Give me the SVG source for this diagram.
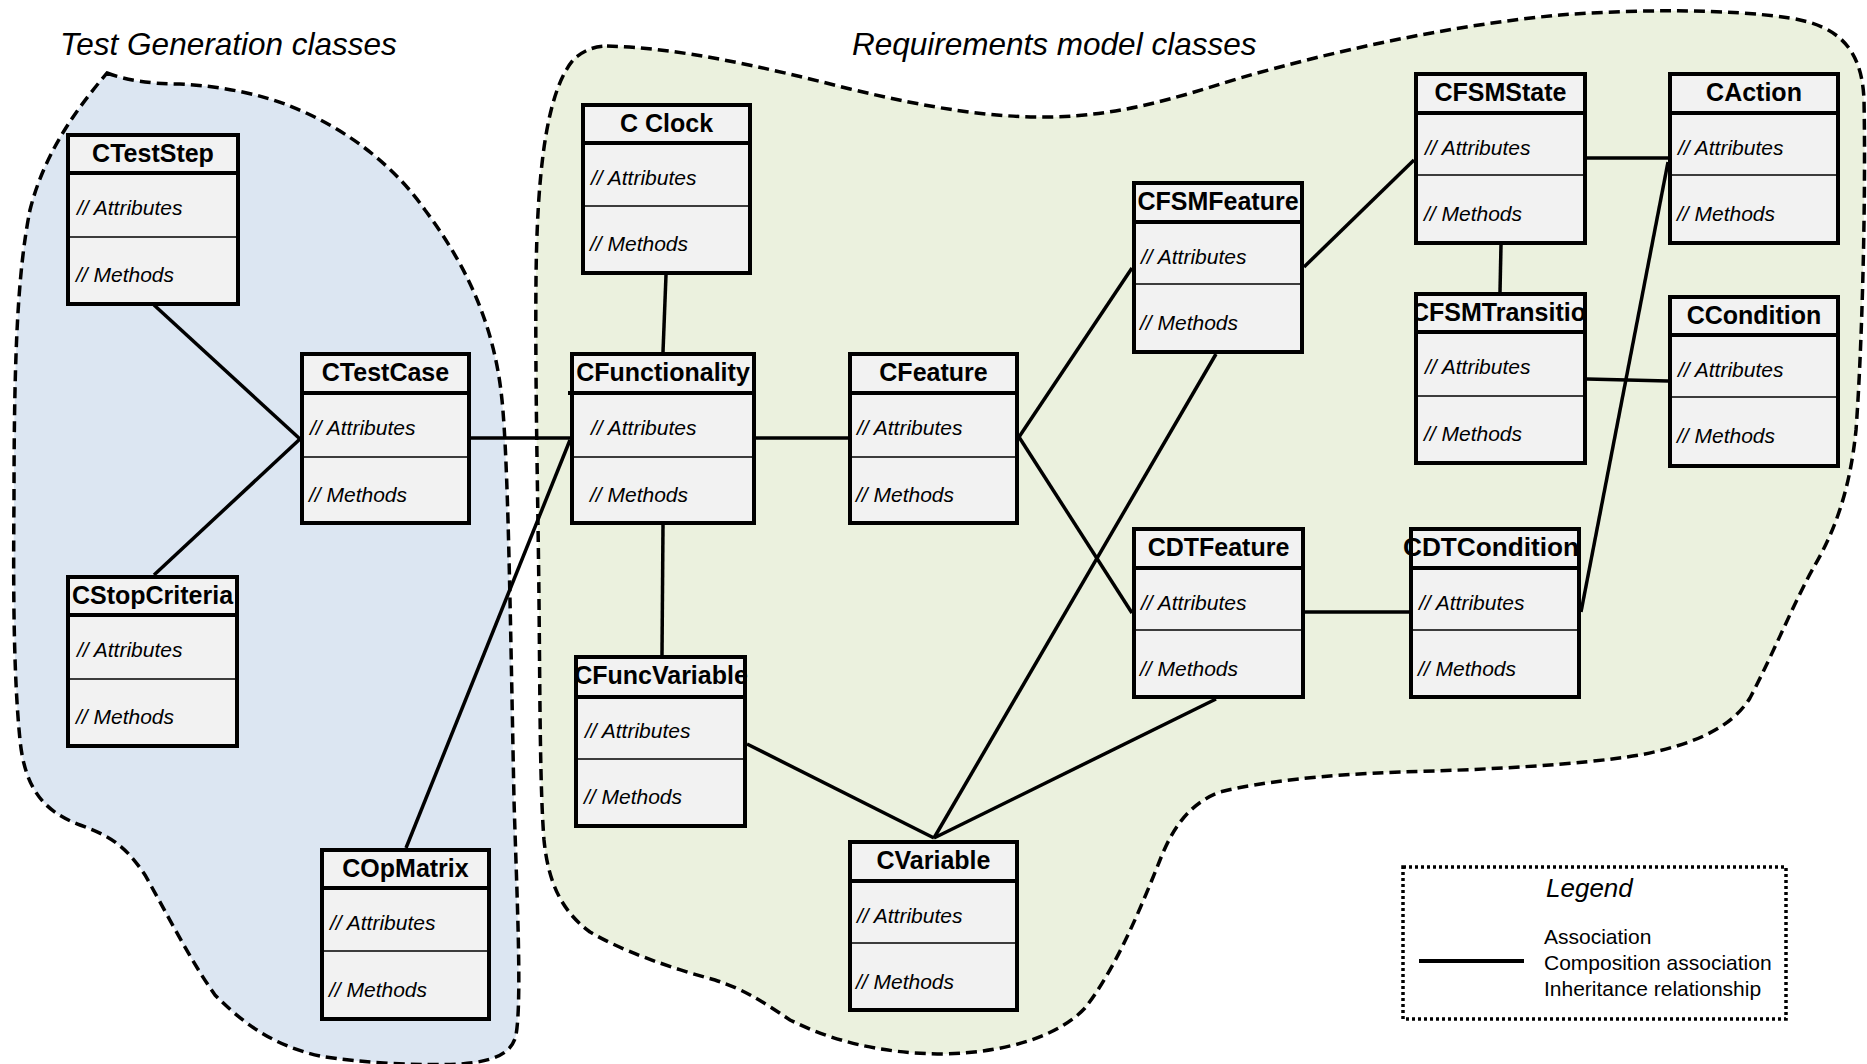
<svg xmlns="http://www.w3.org/2000/svg" width="1867" height="1064" viewBox="0 0 1867 1064">
<style>
.bg{fill:#ffffff}
.blob{stroke:#000;stroke-width:3.5;stroke-dasharray:11 6;fill-rule:nonzero}
.box rect{fill:#f2f2f2;stroke:#000;stroke-width:4}
.hd{stroke:#000;stroke-width:4}
.dv{stroke:#000;stroke-width:1.5}
.nm{font-family:"Liberation Sans",Arial,sans-serif;font-weight:bold;font-size:25px;text-anchor:middle;fill:#000}
.it{font-family:"Liberation Sans",Arial,sans-serif;font-style:italic;font-size:21px;fill:#000}
.ttl{font-family:"Liberation Sans",Arial,sans-serif;font-style:italic;font-size:31.5px;fill:#000}
.lg{font-family:"Liberation Sans",Arial,sans-serif;font-size:21px;fill:#000}
#connectors line{stroke:#000;stroke-width:3.5}
</style>
<defs>
<clipPath id="clipTr"><rect x="1414" y="292" width="173" height="40"/></clipPath>
</defs>
<rect class="bg" x="0" y="0" width="1867" height="1064"/>

<g id="regions">
<path id="region-test" class="blob" fill="#dce6f2" d="M107,73 C125,80 150,84 180,84 C220,86 260,94 290,106 C340,126 390,160 425,210 C470,270 495,330 502,400 C508,460 510,600 514,800 C517,900 522,1000 516,1035 C512,1055 490,1062 460,1064 C420,1066 360,1063 320,1056 C270,1045 240,1020 215,995 C190,960 165,910 145,875 C125,845 110,836 80,825 C45,812 25,790 20,740 C14,680 13,600 14,500 C14,350 18,270 30,210 C45,150 80,105 107,73 Z"/>
<path id="region-req" class="blob" fill="#ebf1de" d="M607,46 C680,48 760,66 850,89 C930,108 990,118 1053,117 C1120,115 1170,100 1240,78 C1330,52 1450,25 1560,15 C1640,9 1730,9 1790,18 C1840,26 1862,50 1864,100 C1866,200 1862,350 1856,430 C1850,490 1835,530 1815,565 C1795,600 1775,650 1750,698 C1730,730 1690,745 1640,755 C1580,765 1480,770 1400,772 C1320,775 1260,782 1220,792 C1185,805 1170,835 1160,860 C1140,910 1115,970 1085,1008 C1060,1035 1010,1052 945,1054 C880,1054 830,1040 790,1020 C760,1000 745,990 715,980 C670,968 620,950 590,932 C560,910 548,880 544,840 C540,790 540,700 539,600 C538,500 535,380 536,280 C537,180 545,90 575,58 C585,50 595,46 607,46 Z"/>
<text class="ttl" x="60" y="55">Test Generation classes</text>
<text class="ttl" x="852" y="55">Requirements model classes</text>
</g>

<g id="connectors">
<line x1="154" y1="305" x2="300" y2="439"/>
<line x1="154" y1="575" x2="300" y2="439"/>
<line x1="471" y1="438" x2="570" y2="438"/>
<line x1="406" y1="848" x2="570" y2="440"/>
<line x1="666" y1="275" x2="663" y2="352"/>
<line x1="756" y1="438" x2="848" y2="438"/>
<line x1="663" y1="525" x2="662" y2="655"/>
<line x1="1019" y1="437" x2="1132" y2="268"/>
<line x1="1019" y1="437" x2="1132" y2="613"/>
<line x1="747" y1="744" x2="934" y2="838"/>
<line x1="934" y1="838" x2="1216" y2="354"/>
<line x1="934" y1="838" x2="1216" y2="699"/>
<line x1="1304" y1="267" x2="1414" y2="160"/>
<line x1="1587" y1="158" x2="1668" y2="158"/>
<line x1="1501" y1="245" x2="1500" y2="292"/>
<line x1="1587" y1="379" x2="1668" y2="381"/>
<line x1="1305" y1="612" x2="1409" y2="612"/>
<line x1="1668" y1="162" x2="1581" y2="612"/>
</g>

<g id="CTestStep" class="box" transform="translate(66,133)">
<rect x="2" y="2" width="170" height="169"/>
<line class="hd" x1="2" y1="40" x2="172" y2="40"/>
<line class="dv" x1="2" y1="104" x2="172" y2="104"/>
<text class="nm" x="87" y="29">CTestStep</text>
<text class="it" x="11" y="82">// Attributes</text>
<text class="it" x="10" y="149">// Methods</text>
</g>

<g id="CTestCase" class="box" transform="translate(300,352)">
<rect x="2" y="2" width="167" height="169"/>
<line class="hd" x1="2" y1="41" x2="169" y2="41"/>
<line class="dv" x1="2" y1="105" x2="169" y2="105"/>
<text class="nm" x="85.5" y="29">CTestCase</text>
<text class="it" x="10" y="83">// Attributes</text>
<text class="it" x="9" y="150">// Methods</text>
</g>

<g id="CStopCriteria" class="box" transform="translate(66,575)">
<rect x="2" y="2" width="169" height="169"/>
<line class="hd" x1="2" y1="40" x2="171" y2="40"/>
<line class="dv" x1="2" y1="104" x2="171" y2="104"/>
<text class="nm" x="86.5" y="29">CStopCriteria</text>
<text class="it" x="11" y="82">// Attributes</text>
<text class="it" x="10" y="149">// Methods</text>
</g>

<g id="COpMatrix" class="box" transform="translate(320,848)">
<rect x="2" y="2" width="167" height="169"/>
<line class="hd" x1="2" y1="40" x2="169" y2="40"/>
<line class="dv" x1="2" y1="103" x2="169" y2="103"/>
<text class="nm" x="85.5" y="29">COpMatrix</text>
<text class="it" x="10" y="82">// Attributes</text>
<text class="it" x="9" y="149">// Methods</text>
</g>

<g id="CClock" class="box" transform="translate(581,103)">
<rect x="2" y="2" width="167" height="168"/>
<line class="hd" x1="2" y1="40" x2="169" y2="40"/>
<line class="dv" x1="2" y1="103" x2="169" y2="103"/>
<text class="nm" x="85.5" y="29">C Clock</text>
<text class="it" x="10" y="82">// Attributes</text>
<text class="it" x="9" y="148">// Methods</text>
</g>

<g id="CFunctionality" class="box" transform="translate(570,352)">
<rect x="2" y="2" width="182" height="169"/>
<line class="hd" x1="-2" y1="41" x2="184" y2="41"/>
<line class="dv" x1="2" y1="105" x2="184" y2="105"/>
<text class="nm" x="93" y="29">CFunctionality</text>
<text class="it" x="21" y="83">// Attributes</text>
<text class="it" x="20" y="150">// Methods</text>
</g>

<g id="CFeature" class="box" transform="translate(848,352)">
<rect x="2" y="2" width="167" height="169"/>
<line class="hd" x1="2" y1="41" x2="169" y2="41"/>
<line class="dv" x1="2" y1="105" x2="169" y2="105"/>
<text class="nm" x="85.5" y="29">CFeature</text>
<text class="it" x="9" y="83">// Attributes</text>
<text class="it" x="8" y="150">// Methods</text>
</g>

<g id="CFuncVariable" class="box" transform="translate(574,655)">
<rect x="2" y="2" width="169" height="169"/>
<line class="hd" x1="2" y1="42" x2="171" y2="42"/>
<line class="dv" x1="2" y1="104" x2="171" y2="104"/>
<text class="nm" x="87" y="29">CFuncVariable</text>
<text class="it" x="11" y="83">// Attributes</text>
<text class="it" x="10" y="149">// Methods</text>
</g>

<g id="CVariable" class="box" transform="translate(848,840)">
<rect x="2" y="2" width="167" height="168"/>
<line class="hd" x1="2" y1="41" x2="169" y2="41"/>
<line class="dv" x1="2" y1="103" x2="169" y2="103"/>
<text class="nm" x="85.5" y="29">CVariable</text>
<text class="it" x="9" y="83">// Attributes</text>
<text class="it" x="8" y="149">// Methods</text>
</g>

<g id="CFSMFeature" class="box" transform="translate(1132,181)">
<rect x="2" y="2" width="168" height="169"/>
<line class="hd" x1="2" y1="41" x2="170" y2="41"/>
<line class="dv" x1="2" y1="103" x2="170" y2="103"/>
<text class="nm" x="86" y="29">CFSMFeature</text>
<text class="it" x="9" y="83">// Attributes</text>
<text class="it" x="8" y="149">// Methods</text>
</g>

<g id="CDTFeature" class="box" transform="translate(1132,527)">
<rect x="2" y="2" width="169" height="168"/>
<line class="hd" x1="2" y1="41" x2="171" y2="41"/>
<line class="dv" x1="2" y1="103" x2="171" y2="103"/>
<text class="nm" x="86.5" y="29">CDTFeature</text>
<text class="it" x="9" y="83">// Attributes</text>
<text class="it" x="8" y="149">// Methods</text>
</g>

<g id="CFSMState" class="box" transform="translate(1414,72)">
<rect x="2" y="2" width="169" height="169"/>
<line class="hd" x1="2" y1="41" x2="171" y2="41"/>
<line class="dv" x1="2" y1="103" x2="171" y2="103"/>
<text class="nm" x="86.5" y="29">CFSMState</text>
<text class="it" x="11" y="83">// Attributes</text>
<text class="it" x="10" y="149">// Methods</text>
</g>

<g id="CAction" class="box" transform="translate(1668,72)">
<rect x="2" y="2" width="168" height="169"/>
<line class="hd" x1="2" y1="41" x2="170" y2="41"/>
<line class="dv" x1="2" y1="103" x2="170" y2="103"/>
<text class="nm" x="86" y="29">CAction</text>
<text class="it" x="10" y="83">// Attributes</text>
<text class="it" x="9" y="149">// Methods</text>
</g>

<g id="CFSMTransition" class="box">
<rect x="1416" y="294" width="169" height="169"/>
<line class="hd" x1="1416" y1="332" x2="1585" y2="332"/>
<line class="dv" x1="1416" y1="396" x2="1585" y2="396"/>
<text class="nm" x="1411" y="321" style="text-anchor:start" clip-path="url(#clipTr)">CFSMTransition</text>
<text class="it" x="1425" y="374">// Attributes</text>
<text class="it" x="1424" y="441">// Methods</text>
</g>

<g id="CCondition" class="box" transform="translate(1668,295)">
<rect x="2" y="2" width="168" height="169"/>
<line class="hd" x1="2" y1="40" x2="170" y2="40"/>
<line class="dv" x1="2" y1="102" x2="170" y2="102"/>
<text class="nm" x="86" y="29">CCondition</text>
<text class="it" x="10" y="82">// Attributes</text>
<text class="it" x="9" y="148">// Methods</text>
</g>

<g id="CDTCondition" class="box" transform="translate(1409,527)">
<rect x="2" y="2" width="168" height="168"/>
<line class="hd" x1="2" y1="41" x2="170" y2="41"/>
<line class="dv" x1="2" y1="103" x2="170" y2="103"/>
<text class="nm" x="-6" y="29" style="text-anchor:start" textLength="176" lengthAdjust="spacingAndGlyphs">CDTCondition</text>
<text class="it" x="10" y="83">// Attributes</text>
<text class="it" x="9" y="149">// Methods</text>
</g>

<g id="legend">
<rect x="1403" y="867" width="383" height="152" fill="#ffffff" stroke="#000" stroke-width="3.5" stroke-dasharray="3 3"/>
<text class="ttl" x="1546" y="897" style="font-size:26px">Legend</text>
<line x1="1419" y1="961" x2="1524" y2="961" stroke="#000" stroke-width="4"/>
<text class="lg" x="1544" y="944">Association</text>
<text class="lg" x="1544" y="970">Composition association</text>
<text class="lg" x="1544" y="996">Inheritance relationship</text>
</g>
</svg>
